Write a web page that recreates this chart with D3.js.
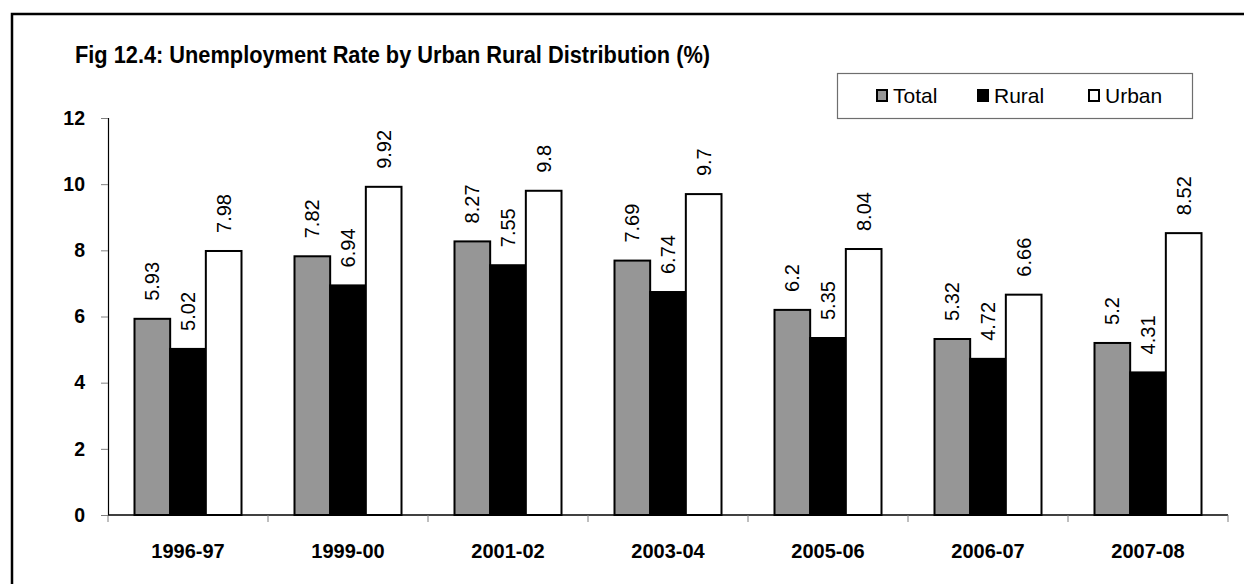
<!DOCTYPE html>
<html>
<head>
<meta charset="utf-8">
<script src="https://cdn.jsdelivr.net/npm/d3@7"></script>
<style>
  html, body { margin: 0; padding: 0; background: #fff; }
  svg { display: block; font-family: "Liberation Sans", Arial, sans-serif; }
</style>
</head>
<body>
<div id="chart"></div>
<script>
// data
var years = ['1996-97', '1999-00', '2001-02', '2003-04', '2005-06', '2006-07', '2007-08'];
var series = ['Total', 'Rural', 'Urban'];
var total = [5.93, 7.82, 8.27, 7.69, 6.2, 5.32, 5.2];
var rural = [5.02, 6.94, 7.55, 6.74, 5.35, 4.72, 4.31];
var urban = [7.98, 9.92, 9.8, 9.7, 8.04, 6.66, 8.52];
var yTicks = [0, 2, 4, 6, 8, 10, 12];

var fills = {Total: '#969696', Rural: '#000000', Urban: '#ffffff'};

var width = 1244, height = 584;
var plotLeft = 108, plotRight = 1228, plotTop = 118, plotBottom = 515;

var svg = d3.select('#chart').append('svg')
    .attr('width', width)
    .attr('height', height);

// outer frame (only left/top visible, rest runs off the picture)
svg.append('rect')
    .attr('x', 12).attr('y', 14)
    .attr('width', 1260).attr('height', 600)
    .attr('fill', 'none')
    .attr('stroke', '#000')
    .attr('stroke-width', 2.5);

// title - narrow face faked by squeezing the bold sans
svg.append('text')
    .attr('x', 75).attr('y', 63)
    .attr('textLength', 635)
    .attr('lengthAdjust', 'spacingAndGlyphs')
    .style('font-family', '"Liberation Sans Narrow", "Liberation Sans", Arial, sans-serif')
    .style('font-weight', 'bold')
    .style('font-size', '23.5px')
    .attr('fill', '#000')
    .text('Fig 12.4: Unemployment Rate by Urban Rural Distribution (%)');

var x = d3.scaleBand().domain(years).range([plotLeft, plotRight]).padding(0);
var xs = d3.scaleBand().domain(series).range([26.5, x.step() - 26.5]).padding(0);
var y = d3.scaleLinear().domain([0, 12]).range([plotBottom, plotTop]);

var rows = years.map(function (yr, i) {
    return {year: yr, values: [
        {key: 'Total', value: total[i]},
        {key: 'Rural', value: rural[i]},
        {key: 'Urban', value: urban[i]}
    ]};
});

// y axis
var yAxis = svg.append('g')
    .attr('transform', 'translate(' + plotLeft + ',0)')
    .call(d3.axisLeft(y).tickValues(yTicks).tickSize(7).tickPadding(16).tickFormat(d3.format('d')));
yAxis.select('.domain').attr('stroke', '#000').attr('stroke-width', 1.2);
yAxis.selectAll('.tick line').attr('stroke', '#808080');
yAxis.selectAll('.tick text')
    .style('font-family', '"Liberation Sans", Arial, sans-serif')
    .style('font-weight', 'bold')
    .style('font-size', '19.5px')
    .attr('fill', '#000');

// groups
var groups = svg.selectAll('.grp')
    .data(rows)
    .enter().append('g')
    .attr('class', 'grp')
    .attr('transform', function (d) { return 'translate(' + x(d.year) + ',0)'; });

groups.selectAll('rect')
    .data(function (d) { return d.values; })
    .enter().append('rect')
    .attr('x', function (d) { return xs(d.key); })
    .attr('y', function (d) { return y(d.value); })
    .attr('width', xs.bandwidth())
    .attr('height', function (d) { return y(0) - y(d.value); })
    .attr('fill', function (d) { return fills[d.key]; })
    .attr('stroke', '#000')
    .attr('stroke-width', 2);

groups.selectAll('.lbl')
    .data(function (d) { return d.values; })
    .enter().append('text')
    .attr('class', 'lbl')
    .attr('transform', function (d) {
        return 'translate(' + (xs(d.key) + xs.bandwidth() / 2) + ',' + (y(d.value) - 18) + ') rotate(-90)';
    })
    .attr('dy', '0.35em')
    .attr('text-anchor', 'start')
    .style('font-size', '20px')
    .attr('fill', '#000')
    .text(function (d) { return String(d.value); });

// x axis
svg.append('line')
    .attr('x1', plotLeft).attr('x2', plotRight)
    .attr('y1', plotBottom).attr('y2', plotBottom)
    .attr('stroke', '#000').attr('stroke-width', 1.5);

svg.selectAll('.xtick')
    .data(years.concat(['end']))
    .enter().append('line')
    .attr('class', 'xtick')
    .attr('x1', function (d, i) { return plotLeft + i * x.step(); })
    .attr('x2', function (d, i) { return plotLeft + i * x.step(); })
    .attr('y1', plotBottom).attr('y2', plotBottom + 7)
    .attr('stroke', '#808080');

svg.selectAll('.xlbl')
    .data(years)
    .enter().append('text')
    .attr('class', 'xlbl')
    .attr('x', function (d) { return x(d) + x.bandwidth() / 2; })
    .attr('y', 558)
    .attr('text-anchor', 'middle')
    .style('font-weight', 'bold')
    .style('font-size', '20px')
    .attr('fill', '#000')
    .text(function (d) { return d; });

// legend
var legend = svg.append('g');
legend.append('rect')
    .attr('x', 837.5).attr('y', 73.5)
    .attr('width', 355).attr('height', 45)
    .attr('fill', '#fff')
    .attr('stroke', '#6e6e6e')
    .attr('stroke-width', 1.2);

var legX = [876, 977, 1088];
var items = legend.selectAll('.item')
    .data(series)
    .enter().append('g')
    .attr('class', 'item')
    .attr('transform', function (d, i) { return 'translate(' + legX[i] + ',0)'; });
items.append('rect')
    .attr('x', 1).attr('y', 90)
    .attr('width', 10).attr('height', 11)
    .attr('fill', function (d) { return fills[d]; })
    .attr('stroke', '#000')
    .attr('stroke-width', 2);
items.append('text')
    .attr('x', 17).attr('y', 103)
    .style('font-size', '21px')
    .attr('fill', '#000')
    .text(function (d) { return d; });
</script>
</body>
</html>
